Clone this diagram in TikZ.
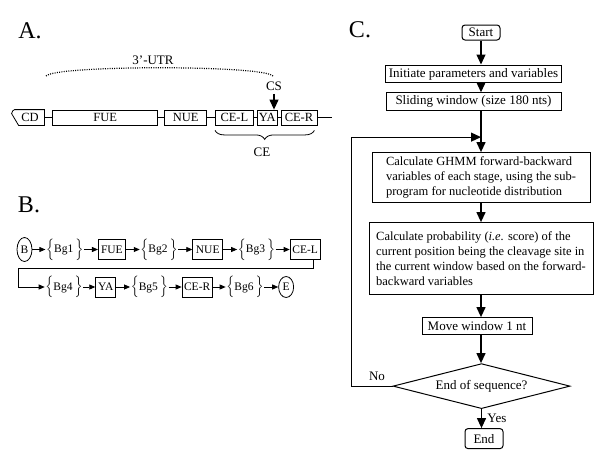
\documentclass[tikz,border=0pt]{standalone}
\usepackage{fontspec}
\setmainfont{Liberation Serif}
\usepackage{amsmath}
\usetikzlibrary{positioning,arrows.meta,shapes.geometric,decorations.pathreplacing}

\begin{document}
\begin{tikzpicture}[x=1pt,y=-1pt,
    panel/.style={font=\fontsize{24}{28}\selectfont},
    txt/.style={font=\fontsize{13}{15}\selectfont},
    seg/.style={draw,line width=0.8pt,minimum height=15pt,inner sep=0pt,font=\fontsize{12.5}{15}\selectfont},
    state/.style={draw,line width=0.8pt,minimum height=20pt,inner sep=2pt,font=\fontsize{11.5}{14}\selectfont},
    bgst/.style={inner sep=0.5pt,font=\fontsize{11.5}{14}\selectfont},
    term/.style={draw,ellipse,line width=0.8pt,inner sep=0pt,minimum width=15pt,minimum height=24pt,font=\fontsize{11.5}{14}\selectfont},
    hop/.style={-{Triangle[width=5pt,length=6pt]},line width=0.8pt},
    proc/.style={draw,line width=1pt,inner sep=3pt,font=\fontsize{13}{15}\selectfont,align=left},
    termbox/.style={proc,rounded corners=3pt,inner sep=1pt},
    decide/.style={draw,diamond,aspect=4,line width=1pt,inner sep=0pt,minimum width=177pt,minimum height=45pt,font=\fontsize{13}{15}\selectfont},
    flow/.style={-{Triangle[width=9pt,length=10pt]},line width=1.2pt}
  ]
  \useasboundingbox (0,0) rectangle (600,458);

  % A.
  \node[panel] (la) at (30,31) {A.};
  \node[seg,draw=none,minimum width=30pt] (cd) at (29,117.5) {\,CD};
  \node[seg,minimum width=105pt,right=8pt of cd] (fue) {FUE};
  \node[seg,minimum width=42pt,right=6pt of fue] (nue) {NUE};
  \node[seg,minimum width=38pt,right=8pt of nue] (cel) {CE-L};
  \node[seg,minimum width=20pt,right=3pt of cel] (ya) {YA};
  \node[seg,minimum width=36pt,right=3pt of ya] (cer) {CE-R};
  \coordinate (tail) at (332,117.5);
  \draw[line width=0.8pt] (cd.north east) -- ([xshift=1pt]cd.north west)
    .. controls ([xshift=-1pt,yshift=-1pt]cd.north west) .. ([xshift=-2pt,yshift=-4pt]cd.north west)
    -- ([xshift=5pt]cd.south west) -- (cd.south east) -- cycle;
  \draw[line width=0.8pt] (cd) -- (fue) -- (nue) -- (cel) -- (ya) -- (cer) -- (tail);
  \coordinate (utl) at (46,76);
  \coordinate (utr) at (273,76);
  \draw[line width=1.2pt,dash pattern=on 1pt off 1.3pt] (utl) .. controls (56,65) and (263,65) .. (utr);
  \node[txt] (utrlab) at (153,60) {3'-UTR};
  \node[txt] (cs) at (274,86) {CS};
  \draw[flow] (cs) -- (cs |- ya.north);
  \draw[decorate,decoration={brace,mirror,amplitude=9pt},line width=0.8pt]
    ([yshift=-5pt]cel.south west) -- ([yshift=-5pt,xshift=-3pt]cer.south east);
  \node[txt] (ce) at (262,152) {CE};

  % B.
  \node[panel] (lb) at (29,205) {B.};
  \node[term] (b) at (24.5,249.5) {B};
  \node[bgst,right=13pt of b] (bg1) {$\Big\{$Bg1$\,\Big\}$};
  \node[state,minimum width=27pt,right=14pt of bg1] (fue2) {FUE};
  \node[bgst,right=14pt of fue2] (bg2) {$\Big\{$Bg2$\,\Big\}$};
  \node[state,minimum width=30pt,right=14pt of bg2] (nue2) {NUE};
  \node[bgst,right=14pt of nue2] (bg3) {$\Big\{$Bg3$\,\Big\}$};
  \node[state,minimum width=30pt,right=14pt of bg3] (cel2) {CE-L};
  \coordinate (wrap) at (18,268);
  \node[bgst] (bg4) at (64,287) {$\Big\{$Bg4$\,\Big\}$};
  \node[state,minimum width=20pt,right=12pt of bg4] (ya2) {YA};
  \node[bgst,right=14pt of ya2] (bg5) {$\Big\{$Bg5$\,\Big\}$};
  \node[state,minimum width=28pt,right=13pt of bg5] (cer2) {CE-R};
  \node[bgst,right=13pt of cer2] (bg6) {$\Big\{$Bg6$\,\Big\}$};
  \node[term,minimum height=21pt,right=14pt of bg6] (e) {E};
  \draw[hop] (b) -- (bg1);
  \draw[hop] (bg1) -- (fue2);
  \draw[hop] (fue2) -- (bg2);
  \draw[hop] (bg2) -- (nue2);
  \draw[hop] (nue2) -- (bg3);
  \draw[hop] (bg3) -- (cel2);
  \draw[hop] ([xshift=-7pt]cel2.south east) |- (wrap) |- (bg4);
  \draw[hop] (bg4) -- (ya2);
  \draw[hop] (ya2) -- (bg5);
  \draw[hop] (bg5) -- (cer2);
  \draw[hop] (cer2) -- (bg6);
  \draw[hop] (bg6) -- (e);

  % C.
  \node[panel] (lc) at (360,30) {C.};
  \node[termbox,minimum width=38pt,minimum height=15pt] (start) at (481,32.5) {Start};
  \node[proc,minimum width=173pt,minimum height=16pt,below=24pt of start,xshift=-7.5pt] (init) {Initiate parameters and variables};
  \node[proc,minimum width=175pt,minimum height=17pt,below=9pt of init] (slide) {Sliding window (size 180 nts)};
  \node[proc,font=\fontsize{12.5}{15}\selectfont,minimum width=218pt,minimum height=50pt,below=41pt of slide,xshift=7.5pt] (ghmm)
    {Calculate GHMM forward-backward\\variables of each stage, using the sub-\\program for nucleotide distribution};
  \node[proc,font=\fontsize{12.5}{15}\selectfont,minimum width=224pt,minimum height=72pt,below=19pt of ghmm] (prob)
    {Calculate probability (\textit{i.e.} score) of the\\current position being the cleavage site in\\the current window based on the forward-\\backward variables};
  \node[proc,minimum width=110pt,minimum height=17pt,below=22pt of prob,xshift=-4pt] (move) {Move window 1 nt};
  \node[decide,below=28pt of move,xshift=4.5pt] (last) {End of sequence?};
  \node[termbox,minimum width=38pt,minimum height=20pt,below=19pt of last,xshift=2.5pt] (stop) {End};
  \draw[flow] (start) -- (start |- init.north);
  \draw[flow] (start |- init.south) -- (start |- slide.north);
  \draw[flow] (start |- slide.south) -- (start |- ghmm.north);
  \draw[flow] (ghmm) -- (prob);
  \draw[flow] (prob.south) -- (prob.south |- move.north);
  \draw[flow] (prob.south |- move.south) -- (prob.south |- last.north);
  \draw[flow] (last) -- (last |- stop.north) node[txt,midway,right=2pt] (yes) {Yes};
  \coordinate[left=41pt of last.west] (turn);
  \draw[flow] (last.west) -- (turn) |- ([yshift=-26pt]slide.south -| ghmm.north);
  \node[txt,anchor=south east] (no) at ([xshift=-4pt,yshift=2pt]last.west) {No};
\end{tikzpicture}
\end{document}
